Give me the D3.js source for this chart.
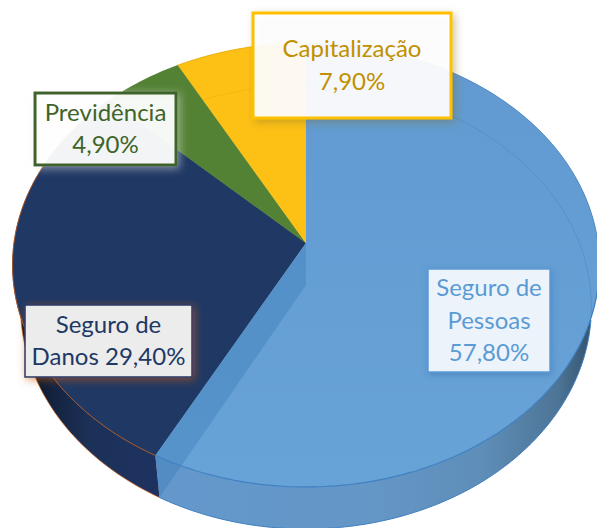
<!DOCTYPE html>
<html>
<head>
<meta charset="utf-8">
<script src="https://cdn.jsdelivr.net/npm/d3@7"></script>
<style>
html,body{margin:0;padding:0;background:#fff;overflow:hidden}
svg{display:block}
text{font-family:Lato,"Open Sans",sans-serif}
</style>
</head>
<body>
<div id="w"></div>
<script>
var categories = ["Seguro de Pessoas","Seguro de Danos","Previdência","Capitalização"]
var values = [57.8,29.4,4.9,7.9]
var valueLabels = ["57,80%","29,40%","4,90%","7,90%"]
var labelLines = [
  ["Seguro de","Pessoas","57,80%"],
  ["Seguro de","Danos 29,40%"],
  ["Previdência","4,90%"],
  ["Capitalização","7,90%"]
]
var colors = ["#659fd4","#203864","#548235","#fdc116"]
var textColors = ["#5b9bd5","#203864","#3e6429","#bf9000"]
// box x,y,w,h for each label
var boxes = [
  {x:428,y:269,w:122,h:103,fill:"#edf3fa",fo:1,border:"#5b9bd5",bw:1.5,shadow:"sBlue"},
  {x:25,y:305,w:167,h:72,fill:"#ececec",fo:1,border:"#203864",bw:1.5,shadow:"sOrange"},
  {x:35,y:93,w:141,h:72,fill:"#ffffff",fo:.9,border:"#3e6429",bw:3,shadow:"sGreen"},
  {x:253,y:13,w:198,h:105,fill:"#ffffff",fo:.92,border:"#ffc000",bw:3,shadow:"sYellow"}
]

var w = 597, h = 528
var svg = d3.select("#w").append("svg").attr("width",w).attr("height",h)
var defs = svg.append("defs")

// tilted disc: circle seen in perspective
var persp = -0.0991
function project(a,r,top){
  var u = Math.sin(a)*r, v = -Math.cos(a)*r, k = 1+persp*v
  return top ? [306+292*u/k, 243+219.8*v/k] : [306+284*u/k, 285+219.8*v/k]
}
function arcPts(a0,a1,top){
  var n = Math.max(2,Math.ceil(Math.abs(a1-a0)*60))
  return d3.range(n+1).map(function(i){ return project(a0+(a1-a0)*i/n,1,top) })
}
var line = d3.line()
var slices = d3.pie().sort(null).value(function(d){return d})(values)

function gradient(id,x1,y1,x2,y2,stops){
  var g = defs.append("linearGradient").attr("id",id).attr("gradientUnits","userSpaceOnUse")
    .attr("x1",x1).attr("y1",y1).attr("x2",x2).attr("y2",y2)
  stops.forEach(function(s){ g.append("stop").attr("offset",s[0]).attr("stop-color",s[1]) })
}
gradient("rimBlue",160,0,592,0,[[0,"#6498cc"],[.5,"#6496c6"],[.75,"#5e8db8"],[.92,"#4d7596"],[1,"#34536e"]])
gradient("rimNavy",18,0,160,0,[[0,"#060c18"],[.25,"#14233f"],[.5,"#1c3158"],[1,"#1d3260"]])
gradient("topBlue",0,43,0,487,[[0,"#6199d0"],[1,"#68a3d7"]])

function shadow(id,col,std,dx,dy,op){
  var f = defs.append("filter").attr("id",id).attr("x","-20%").attr("y","-20%").attr("width","140%").attr("height","140%")
  f.append("feDropShadow").attr("dx",dx).attr("dy",dy).attr("stdDeviation",std)
    .attr("flood-color",col).attr("flood-opacity",op)
}
shadow("sBlue","#2f6fb0",3,1,2,.5)
shadow("sOrange","#c55a11",4,2,2,.6)
shadow("sGreen","#e8ebe6",4,2,2,.55)
shadow("sYellow","#7f6a20",4,3,3,.4)

function topPath(s){
  return line([project(0,0,true)].concat(arcPts(s.startAngle,s.endAngle,true)))+"Z"
}

// rim, bottom first so the tops cover its back half
svg.append("g").selectAll("path").data(slices).join("path")
  .attr("d",function(s){
    return line(arcPts(s.startAngle,s.endAngle,true).concat(arcPts(s.endAngle,s.startAngle,false)))+"Z"
  })
  .attr("fill",function(s,i){ return i==0 ? "url(#rimBlue)" : i==1 ? "url(#rimNavy)" : colors[i] })

// orange outline under the navy slice
svg.append("path").attr("d",line(arcPts(slices[1].startAngle,slices[1].endAngle,false)))
  .attr("fill","none").attr("stroke","#c55a11").attr("stroke-width",.7)
// blue outer edge of rim
svg.append("path").attr("d",line(arcPts(Math.PI*.55,slices[0].endAngle,false)))
  .attr("fill","none").attr("stroke","#3f7fc0").attr("stroke-width",1)

// tops
var order = [1,2,3,0]
svg.append("g").selectAll("path").data(order).join("path")
  .attr("d",function(i){ return topPath(slices[i]) })
  .attr("fill",function(i){ return i==0 ? "url(#topBlue)" : colors[i] })
  .attr("stroke",function(i){ return i==0 ? "none" : colors[i] })
  .attr("stroke-width",.6)

// edge wall of the blue slice, seen through the top
var a = slices[0].endAngle
svg.append("path")
  .attr("d",line([project(0,0,true),project(a,1,true),project(a,1,false),project(0,0,false)])+"Z")
  .attr("fill","#2f6fb0").attr("opacity",.3)

// top outlines
svg.append("path").attr("d",line(arcPts(slices[1].startAngle,slices[1].endAngle,true)))
  .attr("fill","none").attr("stroke","#c55a11").attr("stroke-width",.8)
svg.append("path").attr("d",line(arcPts(0,Math.PI/2,true)))
  .attr("fill","none").attr("stroke","#4a88c4").attr("stroke-width",.8)
svg.append("path").attr("d",line(arcPts(Math.PI/2,slices[0].endAngle,true)))
  .attr("fill","none").attr("stroke","#3f80c2").attr("stroke-width",1.2)
svg.append("path").attr("d",line(arcPts(slices[3].startAngle,slices[3].endAngle,true)))
  .attr("fill","none").attr("stroke","#d9a514").attr("stroke-width",.6)

// bottom rim faintly showing through blue and yellow
;[0,3].forEach(function(i){
  var id = "clip"+i
  defs.append("clipPath").attr("id",id).append("path").attr("d",topPath(slices[i]))
  svg.append("path").attr("clip-path","url(#"+id+")")
    .attr("d",line(arcPts(0,Math.PI*2,false)))
    .attr("fill","none").attr("stroke",i==0 ? "#4a88c4" : "#f0ad10")
    .attr("stroke-width",1).attr("stroke-opacity",.55)
})

// labels
var lab = svg.append("g").selectAll("g").data(categories).join("g").attr("class","label")
lab.append("rect")
  .attr("x",function(d,i){return boxes[i].x}).attr("y",function(d,i){return boxes[i].y})
  .attr("width",function(d,i){return boxes[i].w}).attr("height",function(d,i){return boxes[i].h})
  .attr("fill",function(d,i){return boxes[i].fill}).attr("fill-opacity",function(d,i){return boxes[i].fo})
  .attr("stroke",function(d,i){return boxes[i].border}).attr("stroke-width",function(d,i){return boxes[i].bw})
  .attr("filter",function(d,i){return "url(#"+boxes[i].shadow+")"})
lab.each(function(d,i){
  var b = boxes[i], lines = labelLines[i], lh = 32.5
  var y0 = b.y+b.h/2-(lines.length-1)*lh/2+8
  d3.select(this).selectAll("text").data(lines).join("text")
    .attr("x",b.x+b.w/2).attr("y",function(t,j){return y0+j*lh})
    .attr("text-anchor","middle").attr("font-size",24).attr("fill",textColors[i])
    .text(function(t){return t})
})
</script>
</body>
</html>
